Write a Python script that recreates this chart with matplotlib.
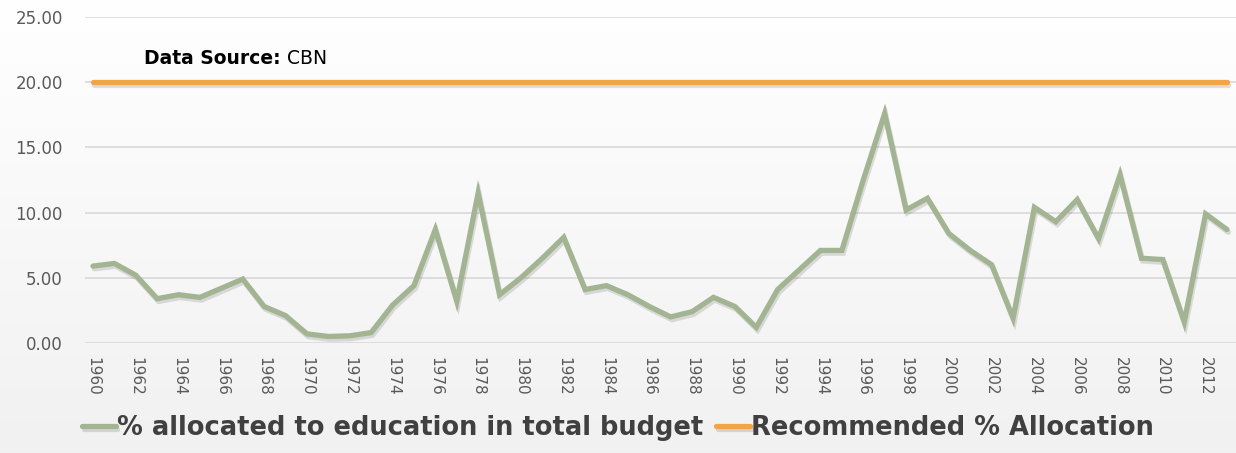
import numpy as np
import matplotlib
matplotlib.use("Agg")
import matplotlib.pyplot as plt
import matplotlib.patheffects as pe

# data
years = list(range(1960, 2014))
edu_share = [5.9, 6.1, 5.2, 3.4, 3.7, 3.5, 4.2, 4.9, 2.8, 2.1,
             0.7, 0.5, 0.55, 0.8, 2.9, 4.4, 8.7, 3.2, 11.5, 3.7,
             5.0, 6.5, 8.1, 4.1, 4.4, 3.7, 2.8, 2.0, 2.4, 3.5,
             2.8, 1.2, 4.1, 5.6, 7.1, 7.1, 12.5, 17.6, 10.2, 11.1,
             8.4, 7.1, 6.0, 1.9, 10.4, 9.3, 11.0, 8.0, 12.9, 6.5,
             6.4, 1.6, 9.9, 8.7]
recommended = [20.0] * len(years)
tick_years = list(range(1960, 2013, 2))

green = "#a2b492"
orange = "#f3a443"
grey = "#595959"

fig = plt.figure(figsize=(12.36, 4.53), dpi=100)

# soft white-to-grey background
bg = fig.add_axes([0, 0, 1, 1], zorder=-10)
grad = np.linspace(1.0, 0.945, 256).reshape(-1, 1)
bg.imshow(np.dstack([grad, grad, grad]), aspect="auto", extent=[0, 1, 0, 1])
bg.axis("off")

ax = fig.add_axes([85 / 1236, 1 - 343 / 453, 1 - 85 / 1236, (343 - 17) / 453])
ax.patch.set_alpha(0)

shadow = [pe.SimpleLineShadow(offset=(1, -2), shadow_color="black", alpha=0.12), pe.Normal()]
ax.plot(years, edu_share, color=green, lw=3.8, solid_joinstyle="miter",
        solid_capstyle="round", path_effects=shadow,
        label="% allocated to education in total budget", zorder=3)
ax.plot(years, recommended, color=orange, lw=3.8, solid_capstyle="round",
        path_effects=shadow, label="Recommended % Allocation", zorder=3)

ax.set_ylim(0, 25)
ax.set_xlim(1960 - 8 / 21.4, 2013 + 9 / 21.4)
ax.set_yticks([0, 5, 10, 15, 20, 25])
ax.set_yticklabels([f"{v:.2f}" for v in [0, 5, 10, 15, 20, 25]], fontsize=12, color=grey)
ax.set_xticks(tick_years)
ax.set_xticklabels([str(y) for y in tick_years], rotation=-90, fontsize=11, color=grey)
ax.tick_params(length=0, pad=10)
ax.tick_params(axis="y", pad=16)
ax.grid(axis="y", color="#d9d9d9", lw=1.2)
ax.set_axisbelow(True)
for s in ax.spines.values():
    s.set_visible(False)

ax.text(1962.4, 21.8, "Data Source:", fontsize=13.5, fontweight="bold", va="center", ha="left", color="black")
ax.text(1962.4 + 143 / 21.4, 21.8, "CBN", fontsize=13.5, va="center", ha="left", color="black")

fig.legend(loc="center", bbox_to_anchor=(0.5, 1 - 428 / 453), ncol=2, frameon=False,
           handlelength=1.3, handletextpad=0.05, columnspacing=0.5,
           prop={"weight": "bold", "size": 18.5}, labelcolor="#404040")

fig.savefig("out.png", dpi=100)
